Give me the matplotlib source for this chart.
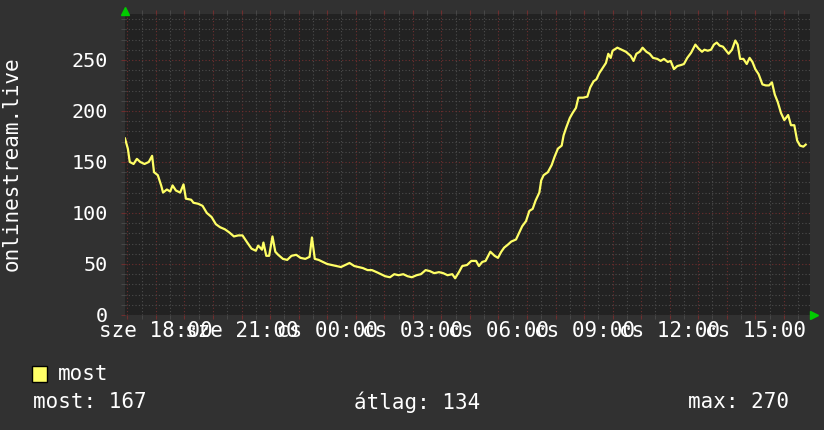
import datetime as dt
import matplotlib
matplotlib.use("Agg")
import matplotlib.pyplot as plt
import matplotlib.dates as mdates
from matplotlib.ticker import MultipleLocator, FuncFormatter

# minutes after the first sample, and the viewer count
minutes = [0, 6, 10, 18, 25, 32, 41, 50, 57, 61, 69, 76, 80, 88, 95, 100, 107, 116,
           123, 128, 139, 144, 154, 163, 172, 182, 191, 200, 210, 219, 229, 238, 247,
           257, 266, 275, 280, 288, 291, 297, 303, 310, 316, 322, 332, 341, 350, 360,
           369, 379, 388, 393, 399, 407, 416, 425, 435, 444, 454, 463, 472, 482, 491,
           500, 510, 519, 529, 538, 547, 557, 566, 575, 585, 594, 603, 613, 622, 632,
           641, 650, 660, 669, 678, 688, 694, 702, 709, 719, 728, 738, 744, 751, 758,
           768, 777, 784, 791, 797, 805, 812, 822, 829, 835, 843, 850, 857, 863, 871,
           875, 880, 889, 897, 903, 910, 918, 922, 927, 935, 941, 948, 953, 963, 972,
           978, 985, 991, 997, 1004, 1011, 1016, 1021, 1025, 1035, 1044, 1053, 1063,
           1069, 1075, 1082, 1088, 1096, 1103, 1110, 1119, 1126, 1133, 1141, 1147,
           1154, 1161, 1169, 1175, 1182, 1190, 1199, 1206, 1213, 1218, 1225, 1232,
           1238, 1244, 1250, 1257, 1264, 1269, 1276, 1283, 1288, 1293, 1300, 1307,
           1313, 1319, 1325, 1332, 1340, 1347, 1354, 1360, 1366, 1372, 1379, 1386,
           1394, 1400, 1407, 1413, 1419, 1426, 1431]
most = [173, 163, 150, 148, 153, 150, 148, 150, 156, 140, 137, 127, 120, 123, 121, 127,
        122, 120, 128, 114, 113, 110, 109, 107, 100, 96, 89, 86, 84, 81, 77, 78, 78,
        71, 65, 63, 68, 64, 71, 58, 58, 77, 62, 59, 55, 54, 58, 59, 56, 55, 57, 76,
        55, 54, 52, 50, 49, 48, 47, 49, 51, 48, 47, 46, 44, 44, 42, 40, 38, 37, 40,
        39, 40, 38, 37, 39, 40, 44, 43, 41, 42, 41, 39, 40, 36, 42, 48, 49, 53, 53,
        48, 52, 53, 62, 58, 56, 62, 66, 69, 72, 74, 81, 87, 92, 102, 104, 112, 120,
        132, 137, 140, 147, 155, 163, 166, 176, 183, 193, 198, 203, 213, 213, 214,
        223, 229, 231, 237, 242, 247, 256, 252, 259, 262, 260, 258, 254, 249, 256,
        258, 262, 258, 256, 252, 251, 249, 251, 248, 249, 241, 244, 245, 246, 252,
        257, 265, 261, 258, 260, 259, 260, 265, 267, 264, 263, 259, 256, 260, 269,
        265, 251, 251, 246, 252, 248, 241, 236, 226, 225, 225, 228, 216, 209, 198,
        191, 196, 186, 186, 171, 166, 165, 167]
day_names = ["h", "k", "sze", "cs", "p", "szo", "v"]
ylabel = "onlinestream.live"
legend_name = "most"
stats = ["most: 167", "átlag: 134", "max: 270"]

start = dt.datetime(2024, 1, 3, 16, 55)
times = [start + dt.timedelta(minutes=m) for m in minutes]

bg = "#313131"
plot_bg = "#222222"
minor_c = "#4c4c4c"
major_c = "#6e2e2e"
line_c = "#ffff66"
mono = "DejaVu Sans Mono"

fig = plt.figure(figsize=(8.24, 4.30), dpi=100, facecolor=bg)
ax = fig.add_axes([125 / 824, 1 - 315 / 430, 685 / 824, 301 / 430])
ax.set_facecolor(plot_bg)

ax.plot(times, most, color=line_c, lw=1.6, zorder=3)

ax.set_xlim(start, start + dt.timedelta(hours=24))
ax.set_ylim(0, 295)

ax.xaxis.set_major_locator(mdates.HourLocator())
ax.xaxis.set_minor_locator(mdates.MinuteLocator(byminute=[30]))


def xfmt(v, pos):
    d = mdates.num2date(v)
    if d.hour % 3:
        return ""
    return f"{day_names[d.weekday()]} {d:%H:%M}"


ax.xaxis.set_major_formatter(FuncFormatter(xfmt))
ax.yaxis.set_major_locator(MultipleLocator(50))
ax.yaxis.set_minor_locator(MultipleLocator(10))

dots = (0, (1, 2))
ax.grid(which="minor", color=minor_c, ls=dots, lw=0.8)
ax.grid(which="major", color=major_c, ls=dots, lw=0.8)
ax.set_axisbelow(True)

for s in ax.spines.values():
    s.set_visible(False)

ax.tick_params(axis="x", which="major", top=True, length=3, color=major_c,
               labelcolor="white", labelsize=15, pad=1)
ax.tick_params(axis="x", which="minor", top=True, length=3, color=minor_c)
ax.tick_params(axis="y", which="major", length=3, color=major_c,
               labelcolor="white", labelsize=14.5, pad=9)
ax.tick_params(axis="y", which="minor", length=3, color=minor_c)
for lab in ax.get_xticklabels() + ax.get_yticklabels():
    lab.set_family(mono)

fig.text(12 / 824, 1 - 164 / 430, ylabel, rotation=90, color="white",
         fontsize=15, family=mono, ha="center", va="center")

# axis arrows
fig.add_artist(plt.Line2D([125 / 824], [1 - 11 / 430], marker="^", ms=6,
                          color="#00cc00", transform=fig.transFigure))
fig.add_artist(plt.Line2D([814 / 824], [1 - 315 / 430], marker=">", ms=6,
                          color="#00cc00", transform=fig.transFigure))

# legend
fig.add_artist(plt.Rectangle((32 / 824, 1 - 382 / 430), 15 / 824, 16 / 430,
                             facecolor=line_c, edgecolor="black", lw=1,
                             transform=fig.transFigure))
fig.text(58 / 824, 1 - 374 / 430, legend_name, color="white", fontsize=15,
         family=mono, va="center")
for x, s in zip([33, 354, 688], stats):
    fig.text(x / 824, 1 - 402 / 430, s, color="white", fontsize=15,
             family=mono, va="center")

fig.savefig("out.png", dpi=100, facecolor=bg)
